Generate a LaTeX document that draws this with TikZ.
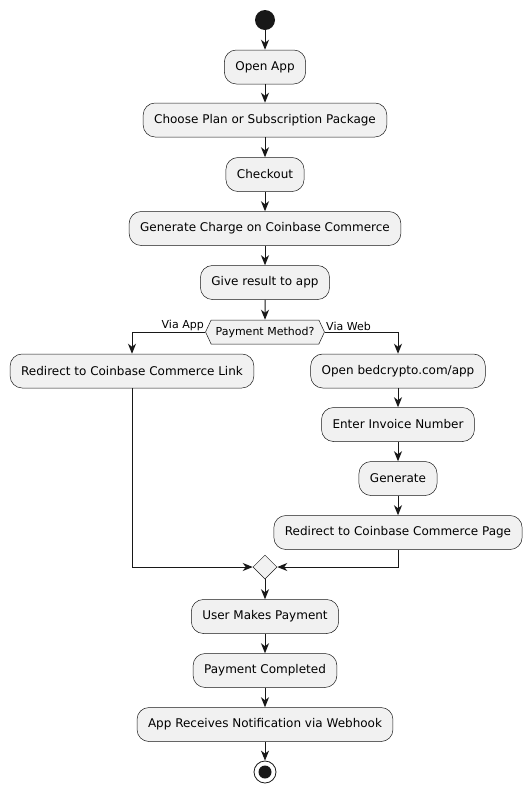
\documentclass[tikz,border=0pt]{standalone}
\usepackage{fontspec}
\setmainfont{DejaVu Sans}
\usetikzlibrary{positioning, arrows.meta, shapes.geometric, shapes.symbols}
\definecolor{actfill}{HTML}{F1F1F1}
\definecolor{actline}{HTML}{181818}

\begin{document}
\begin{tikzpicture}[x=1pt, y=-1pt,
        >={Stealth[length=10pt, width=8pt, inset=3pt]},
        act/.style={draw=actline, fill=actfill, line width=0.5pt, rounded corners=12pt,
            minimum height=34pt, inner xsep=11pt, font=\fontsize{12}{14}\selectfont},
        choice/.style={shape=signal, signal to=west and east, signal pointer angle=130,
            draw=actline, fill=actfill, line width=0.5pt, minimum height=24pt,
            inner xsep=4.5pt, inner ysep=0pt, font=\fontsize{11}{13}\selectfont},
        merge/.style={shape=diamond, draw=actline, fill=actfill, line width=0.5pt,
            minimum size=24pt, inner sep=0pt},
        lbl/.style={font=\fontsize{11}{13}\selectfont, inner sep=1pt},
        flow/.style={->, draw=actline, line width=1pt}]
    \useasboundingbox (0, 0) rectangle (531, 793);

        \node[circle, fill=actline, minimum size=20pt, inner sep=0pt] (s0) at (265, 20) {};
        \node[act] (a1) at (265, 67) {Open App};
        \node[act] (a2) at (265, 120) {Choose Plan or Subscription Package};
        \node[act] (a3) at (265, 174.5) {Checkout};
        \node[act] (a4) at (265, 228.5) {Generate Charge on Coinbase Commerce};
        \node[act] (a5) at (265, 282.5) {Give result to app};
        \node[choice] (dec) at (265, 332) {Payment Method?};

        \node[act] (b1) at (132, 371) {Redirect to Coinbase Commerce Link};

        \node[act] (c1) at (398, 371) {Open bedcrypto.com/app};
        \node[act] (c2) at (398, 424.5) {Enter Invoice Number};
        \node[act] (c3) at (398, 478.5) {Generate};
        \node[act] (c4) at (398, 532.5) {Redirect to Coinbase Commerce Page};

        \node[merge] (m) at (265, 567) {};
        \node[act] (a6) at (265, 616.5) {User Makes Payment};
        \node[act] (a7) at (265, 670.5) {Payment Completed};
        \node[act] (a8) at (265, 724.5) {App Receives Notification via Webhook};
        \node[circle, draw=actline, line width=0.8pt, minimum size=22pt, inner sep=0pt,
            path picture={\fill[actline] (path picture bounding box.center) circle (6.5pt);}] (e0) at (265, 772) {};

        \draw[flow] (s0) -- (a1);
        \draw[flow] (a1) -- (a2);
        \draw[flow] (a2) -- (a3);
        \draw[flow] (a3) -- (a4);
        \draw[flow] (a4) -- (a5);
        \draw[flow] (a5) -- (dec);
        \draw[flow] (dec.west) -| node[lbl, pos=0, anchor=south east] {Via App} (b1);
        \draw[flow] (dec.east) -| node[lbl, pos=0, anchor=south west] {Via Web} (c1);
        \draw[flow] (c1) -- (c2);
        \draw[flow] (c2) -- (c3);
        \draw[flow] (c3) -- (c4);
        \draw[flow] (b1) |- (m);
        \draw[flow] (c4) |- (m);
        \draw[flow] (m) -- (a6);
        \draw[flow] (a6) -- (a7);
        \draw[flow] (a7) -- (a8);
        \draw[flow] (a8) -- (e0);
    \end{tikzpicture}
\end{document}
